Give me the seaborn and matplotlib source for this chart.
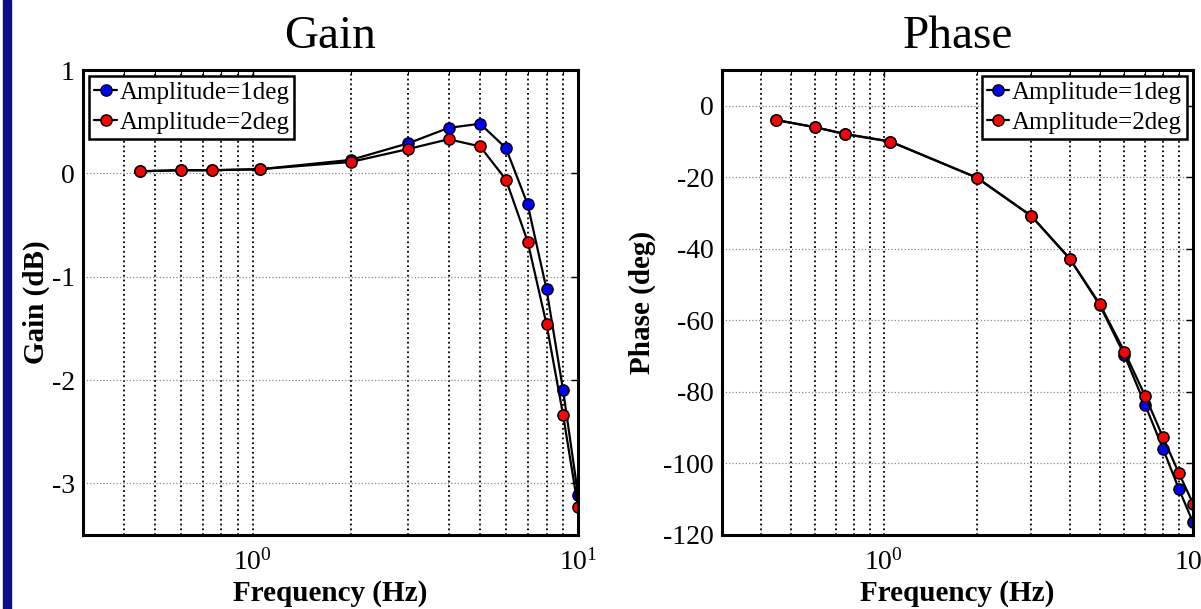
import numpy as np
import pandas as pd
import seaborn as sns
import matplotlib.pyplot as plt
from matplotlib.patches import Rectangle
from matplotlib.ticker import LogLocator, FixedLocator

# data
freq = [0.45, 0.6, 0.75, 1.05, 2, 3, 4, 5, 6, 7, 8, 9, 10]
gain_1deg = [0.02, 0.03, 0.03, 0.04, 0.13, 0.29, 0.44, 0.48, 0.245, -0.30, -1.12, -2.10, -3.11]
gain_2deg = [0.02, 0.03, 0.03, 0.04, 0.11, 0.235, 0.33, 0.26, -0.06, -0.66, -1.46, -2.34, -3.23]
phase_1deg = [-4.0, -6.0, -7.9, -10.0, -20.1, -30.8, -42.8, -55.8, -69.7, -83.6, -95.9, -107.1, -116.5]
phase_2deg = [-4.0, -6.0, -7.9, -10.0, -20.1, -30.8, -42.8, -55.5, -68.7, -81.1, -92.7, -102.7, -111.2]
series_labels = ["Amplitude=1deg", "Amplitude=2deg"]
face_colors = ["#0000ff", "#ff0000"]

sns.set_style("white")
plt.rcParams["font.family"] = ["Liberation Serif", "DejaVu Serif"]
plt.rcParams["mathtext.fontset"] = "stix"
plt.rcParams["axes.unicode_minus"] = False
for key in ["text.color", "axes.labelcolor", "xtick.color", "ytick.color"]:
    plt.rcParams[key] = "black"

fig = plt.figure(figsize=(12.01, 6.09), dpi=100)
ax_gain = fig.add_axes([83 / 1201, 1 - 535 / 609, 495 / 1201, 465 / 609])
ax_phase = fig.add_axes([722 / 1201, 1 - 535 / 609, 471 / 1201, 465 / 609])

# slide accent bar on the left
fig.patches.append(Rectangle((3 / 1201, 0), 8 / 1201, 1, transform=fig.transFigure,
                             color="#0b0b8c", zorder=0))


def draw_panel(ax, ys, title, ylabel, yticks, ylim, legend_loc, ylabel_x):
    for y, lab, fc in zip(ys, series_labels, face_colors):
        sns.lineplot(x=freq, y=y, ax=ax, color="k", linewidth=1.6, marker="o",
                     markersize=8, markerfacecolor=fc, markeredgecolor="k",
                     markeredgewidth=1.1, label=lab, sort=False)
    ax.set_xscale("log")
    ax.set_xlim(0.3, 10)
    ax.set_ylim(*ylim)
    ax.set_yticks(yticks)
    ax.xaxis.set_major_locator(FixedLocator([1, 10]))
    ax.xaxis.set_minor_locator(LogLocator(base=10, subs=np.arange(2, 10)))
    ax.xaxis.set_minor_formatter(plt.NullFormatter())
    ax.grid(True, axis="x", which="both", color="k", linestyle=":", linewidth=1.3)
    ax.grid(True, axis="y", which="major", color="#888888", linestyle=":", linewidth=0.9)
    for s in ax.spines.values():
        s.set_linewidth(2.2)
        s.set_color("k")
    ax.tick_params(axis="both", which="both", direction="in", top=True, right=True,
                   labelsize=20, pad=6)
    ax.tick_params(axis="x", which="major", pad=10)
    ax.tick_params(axis="both", which="major", length=5, width=1)
    ax.tick_params(axis="both", which="minor", length=3, width=0.8)
    ax.set_title(title, fontsize=34, pad=16)
    ax.set_xlabel("Frequency (Hz)", fontsize=21, fontweight="bold", labelpad=3)
    ax.set_ylabel(ylabel, fontsize=21, fontweight="bold")
    ax.yaxis.set_label_coords(ylabel_x, 0.5)
    leg = ax.legend(loc=legend_loc, fontsize=18, frameon=True, fancybox=False,
                    handlelength=0.9, handletextpad=0.1, borderpad=0.2,
                    labelspacing=0.3, borderaxespad=0.25)
    leg.get_frame().set_edgecolor("k")
    leg.get_frame().set_linewidth(1.8)
    leg.get_frame().set_alpha(1)


draw_panel(ax_gain, [gain_1deg, gain_2deg], "Gain", "Gain (dB)",
           [-3, -2, -1, 0, 1], (-3.5, 1), "upper left", -0.066)
draw_panel(ax_phase, [phase_1deg, phase_2deg], "Phase", "Phase (deg)",
           [-120, -100, -80, -60, -40, -20, 0], (-120, 10), "upper right", -0.14)

fig.savefig("out.png", dpi=100)
